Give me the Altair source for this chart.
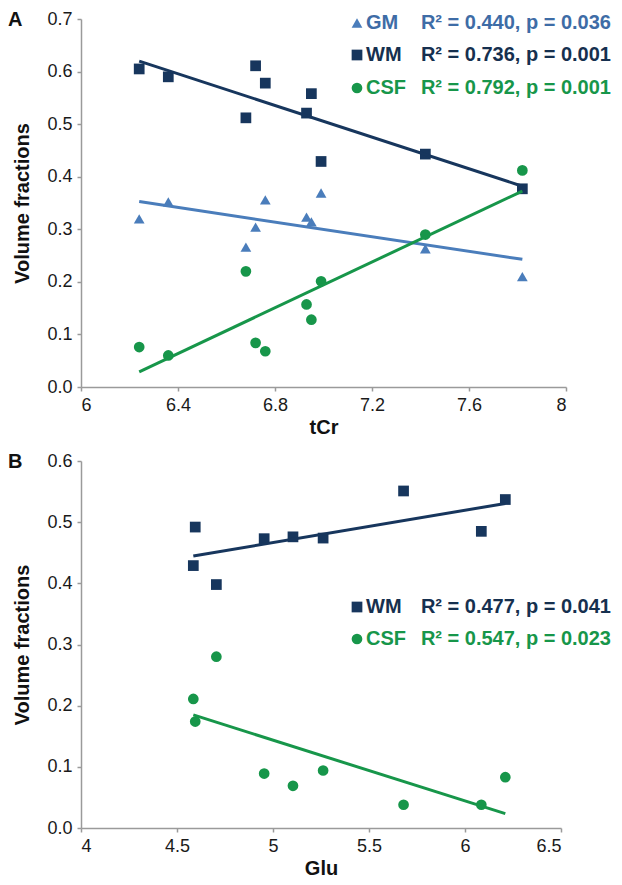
import altair as alt
import pandas as pd

FONT = "Liberation Sans"

series_names = ["GM", "WM", "CSF"]
series_colors = ["#4a7dbb", "#17365d", "#17964a"]
text_colors = ["#3e6ca6", "#16304f", "#17964a"]
series_shapes = ["triangle-up", "square", "circle"]

# Panel A: volume fractions vs tCr
tcr = [6.24, 6.36, 6.68, 6.72, 6.76, 6.93, 6.95, 6.99, 7.42, 7.82]
gm_a = [0.320, 0.352, 0.266, 0.304, 0.356, 0.323, 0.314, 0.369, 0.263, 0.210]
wm_a = [0.605, 0.590, 0.512, 0.611, 0.578, 0.521, 0.558, 0.429, 0.443, 0.377]
csf_a = [0.076, 0.060, 0.220, 0.084, 0.068, 0.157, 0.128, 0.201, 0.290, 0.412]
stats_a = ["R\u00b2 = 0.440, p = 0.036", "R\u00b2 = 0.736, p = 0.001", "R\u00b2 = 0.792, p = 0.001"]

# Panel B: volume fractions vs Glu
glu = [4.585, 4.595, 4.705, 4.954, 5.104, 5.261, 5.680, 6.085, 6.210]
wm_b = [0.429, 0.492, 0.398, 0.473, 0.476, 0.474, 0.551, 0.485, 0.537]
csf_b = [0.211, 0.174, 0.280, 0.089, 0.069, 0.094, 0.038, 0.038, 0.083]
stats_b = ["R\u00b2 = 0.477, p = 0.041", "R\u00b2 = 0.547, p = 0.023"]

x_ticks_a = [6, 6.4, 6.8, 7.2, 7.6, 8]
y_ticks_a = [0, 0.1, 0.2, 0.3, 0.4, 0.5, 0.6, 0.7]
x_ticks_b = [4, 4.5, 5, 5.5, 6, 6.5]
y_ticks_b = [0, 0.1, 0.2, 0.3, 0.4, 0.5, 0.6]


def long_frame(xs, cols):
    rows = []
    for name, ys in cols:
        for xv, yv in zip(xs, ys):
            rows.append({"x": xv, "y": yv, "series": name})
    return pd.DataFrame(rows)


df_a = long_frame(tcr, [("GM", gm_a), ("WM", wm_a), ("CSF", csf_a)])
df_b = long_frame(glu, [("WM", wm_b), ("CSF", csf_b)])

MSIZE = 115


def panel(df, xtitle, xdomain, xticks, ydomain, yticks, w, h, letter, legend_rows):
    xenc = alt.X("x:Q", title=xtitle,
                 scale=alt.Scale(domain=xdomain, nice=False, zero=False),
                 axis=alt.Axis(values=xticks, format="~g"))
    yenc = alt.Y("y:Q", title="Volume fractions",
                 scale=alt.Scale(domain=ydomain, nice=False),
                 axis=alt.Axis(values=yticks, format=".1f"))
    color = alt.Color("series:N", scale=alt.Scale(domain=series_names, range=series_colors), legend=None)
    shape = alt.Shape("series:N", scale=alt.Scale(domain=series_names, range=series_shapes), legend=None)

    pts = alt.Chart(df).mark_point(filled=True, size=MSIZE, opacity=1).encode(
        x=xenc, y=yenc, color=color, shape=shape)
    lines = alt.Chart(df).transform_regression(
        "x", "y", groupby=["series"]).mark_line(strokeWidth=3).encode(
        x=xenc, y=yenc, color=color)

    layers = [pts, lines]

    layers.append(
        alt.Chart(pd.DataFrame({"t": [letter]})).mark_text(
            align="left", baseline="middle", font=FONT, fontSize=20,
            fontWeight="bold", color="#111111").encode(
            text="t:N", x=alt.value(-73), y=alt.value(1)))

    for name, stat, ypx in legend_rows:
        i = series_names.index(name)
        layers.append(
            alt.Chart(pd.DataFrame({"t": [name]})).mark_point(
                filled=True, size=MSIZE, opacity=1, shape=series_shapes[i],
                color=series_colors[i]).encode(x=alt.value(276), y=alt.value(ypx)))
        layers.append(
            alt.Chart(pd.DataFrame({"t": [name]})).mark_text(
                align="left", baseline="middle", font=FONT, fontSize=20,
                fontWeight="bold", color=text_colors[i]).encode(
                text="t:N", x=alt.value(285), y=alt.value(ypx)))
        layers.append(
            alt.Chart(pd.DataFrame({"t": [stat]})).mark_text(
                align="right", baseline="middle", font=FONT, fontSize=20,
                fontWeight="bold", color=text_colors[i]).encode(
                text="t:N", x=alt.value(530), y=alt.value(ypx)))

    return alt.layer(*layers).properties(width=w, height=h)


top = panel(df_a, "tCr", [6, 8], x_ticks_a, [0, 0.7], y_ticks_a, 485, 368, "A",
            [("GM", stats_a[0], 4), ("WM", stats_a[1], 36), ("CSF", stats_a[2], 69)])
bottom = panel(df_b, "Glu", [4, 6.5], x_ticks_b, [0, 0.6], y_ticks_b, 480, 367, "B",
               [("WM", stats_b[0], 146), ("CSF", stats_b[1], 178)])

chart = alt.vconcat(top, bottom, spacing=15).properties(
    padding={"left": 0, "top": 2, "right": 0, "bottom": 0}
).configure_view(stroke=None).configure_axis(
    grid=False,
    domainColor="#9a9a9a",
    domainWidth=1.5,
    tickColor="#9a9a9a",
    tickWidth=1.5,
    tickSize=4,
    labelPadding=5,
    labelFont=FONT,
    labelFontSize=18,
    labelColor="#1a1a1a",
    titleFont=FONT,
    titleFontSize=20,
    titleFontWeight="bold",
    titleColor="#111111",
    titlePadding=3,
).configure_axisY(
    titlePadding=14,
)

chart.save("out.html", embed_options={"renderer": "svg", "actions": False})
